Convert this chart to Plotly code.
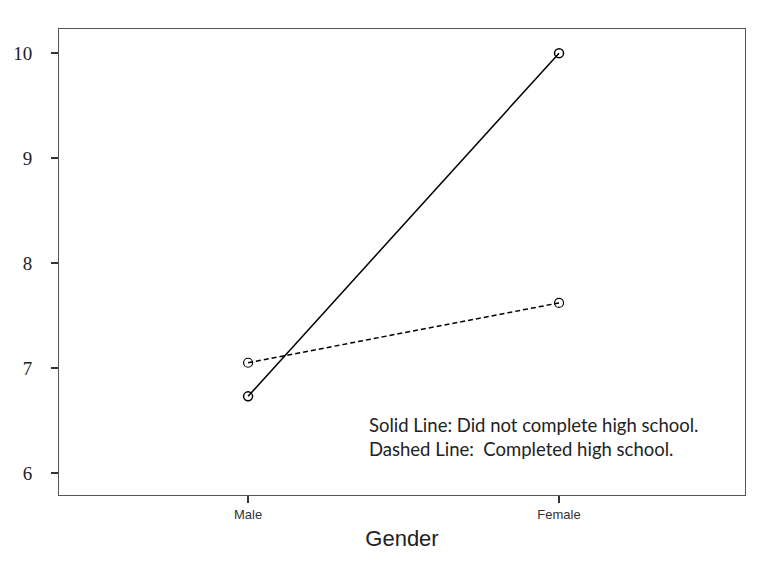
import plotly.graph_objects as go

genders = ["Male", "Female"]
x_pos = [1, 2]
solid_vals = [6.73, 10.0]   # Did not complete high school
dashed_vals = [7.05, 7.62]  # Completed high school
y_ticks = [6, 7, 8, 9, 10]

fig = go.Figure()
fig.add_trace(go.Scatter(
    x=x_pos, y=solid_vals, mode="lines+markers",
    line=dict(color="black", width=1.5, dash="solid"),
    marker=dict(symbol="circle-open", size=9, color="black", line=dict(width=1.5)),
    showlegend=False))
fig.add_trace(go.Scatter(
    x=x_pos, y=dashed_vals, mode="lines+markers",
    line=dict(color="black", width=1.5, dash="5px,3px"),
    marker=dict(symbol="circle-open", size=9, color="black", line=dict(width=1.2)),
    showlegend=False))

fig.add_annotation(x=0.449, y=0.1255, xref="paper", yref="paper",
                   text="Solid Line: Did not complete high school.<br>Dashed Line:  Completed high school.",
                   showarrow=False, xanchor="left", yanchor="middle", align="left",
                   font=dict(family="Lato, Liberation Sans, Arial", size=18.5, color="#222"))

fig.update_layout(
    width=763, height=553,
    margin=dict(l=51, r=26, t=21, b=66, autoexpand=False),
    paper_bgcolor="white", plot_bgcolor="white",
    xaxis=dict(range=[0.392, 2.598], tickvals=x_pos, ticktext=genders,
               showgrid=False, zeroline=False, showline=True, mirror=True,
               linecolor="#555", linewidth=1, ticks="outside", ticklen=7,
               tickcolor="#333", tickwidth=1.5, automargin=False,
               tickfont=dict(family="Liberation Sans, Arial", size=13, color="#333"),
               title=dict(text="Gender", standoff=10,
                          font=dict(family="Liberation Sans, Arial", size=22, color="#222"))),
    yaxis=dict(range=[5.79, 10.23], tickvals=y_ticks,
               showgrid=False, zeroline=False, showline=True, mirror=True,
               linecolor="#555", linewidth=1, ticks="outside", ticklen=7,
               tickcolor="#333", tickwidth=1.5, ticklabelstandoff=15, automargin=False,
               tickfont=dict(family="Liberation Serif, Times New Roman", size=19, color="#222")),
)

fig.write_html("out.html")
